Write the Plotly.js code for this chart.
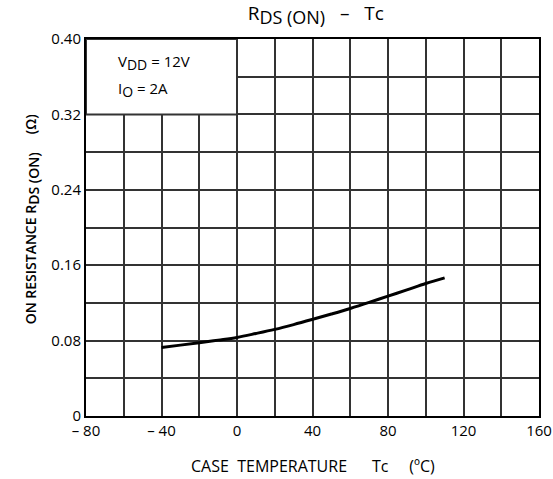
<!DOCTYPE html>
<html>
<head>
<meta charset="utf-8">
<script src="https://cdn.plot.ly/plotly-3.0.1.min.js"></script>
<style>html,body{margin:0;padding:0;background:#fff;}#chart{width:553px;height:479px;}</style>
</head>
<body>
<div id="chart"></div>
<script>
// Data
const tempC = [-40, -30, -20, -10, 0, 10, 20, 30, 40, 50, 60, 70, 80, 90, 100, 110];
const rdsOn = [0.0728, 0.0752, 0.0778, 0.0805, 0.0834, 0.0875, 0.0919, 0.097, 0.1025, 0.1082, 0.1141, 0.1205, 0.1272, 0.1338, 0.1406, 0.1466];
const xTickVals = [-80, -60, -40, -20, 0, 20, 40, 60, 80, 100, 120, 140, 160];
const xTickText = ['\u2013 80', '', '\u2013 40', '', '0', '', '40', '', '80', '', '120', '', '160'];
const yTickVals = [0, 0.04, 0.08, 0.12, 0.16, 0.20, 0.24, 0.28, 0.32, 0.36, 0.40];
const yTickText = ['0', '', '0.08', '', '0.16', '', '0.24', '', '0.32', '', '0.40'];

const FONT = 'Open Sans, DejaVu Sans, sans-serif';
const sp = n => '\u00A0'.repeat(n);
const subBig = (t, px) => '<sub><span style="font-size:' + px + 'px">' + t + '</span></sub>';

const trace = {
  x: tempC, y: rdsOn, type: 'scatter', mode: 'lines',
  line: {color: '#000', width: 3, shape: 'spline'},
  hoverinfo: 'skip', showlegend: false
};

const gridStyle = {showgrid: true, gridcolor: '#333', gridwidth: 2};

const layout = {
  width: 553, height: 479,
  margin: {l: 86, r: 14, t: 39, b: 63},
  paper_bgcolor: '#fff', plot_bgcolor: '#fff',
  font: {family: FONT, color: '#000', size: 15},
  showlegend: false,
  title: {
    text: 'R' + subBig('DS (ON)', 18) + sp(3) + '\u2013' + sp(3) + 'Tc',
    font: {family: FONT, size: 19, color: '#000'},
    x: 0.571, xanchor: 'center', y: 0.972, yanchor: 'middle'
  },
  xaxis: Object.assign({
    range: [-80, 160], tickmode: 'array', tickvals: xTickVals, ticktext: xTickText,
    showline: true, linecolor: '#000', linewidth: 2, mirror: true,
    ticks: '', zeroline: false, fixedrange: true,
    tickfont: {family: FONT, size: 15, color: '#000'}
  }, gridStyle),
  yaxis: Object.assign({
    range: [0, 0.40], tickmode: 'array', tickvals: yTickVals, ticktext: yTickText,
    showline: true, linecolor: '#000', linewidth: 2, mirror: true,
    ticks: '', zeroline: false, fixedrange: true,
    tickfont: {family: FONT, size: 15, color: '#000'}
  }, gridStyle),
  shapes: [{
    type: 'rect', xref: 'x', yref: 'y', x0: -80, x1: 0, y0: 0.32, y1: 0.40,
    fillcolor: '#fff', line: {color: '#333', width: 2}, layer: 'above'
  }],
  annotations: [
    {xref: 'x', yref: 'y', x: -64, y: 0.375, xanchor: 'left', yanchor: 'middle', showarrow: false,
     text: 'V' + subBig('DD', 14) + ' = 12V', font: {family: FONT, size: 15, color: '#000'}},
    {xref: 'x', yref: 'y', x: -64, y: 0.3465, xanchor: 'left', yanchor: 'middle', showarrow: false,
     text: 'I' + subBig('O', 14) + ' = 2A', font: {family: FONT, size: 15, color: '#000'}},
    {xref: 'paper', yref: 'paper', x: 0.5, y: -0.133, xanchor: 'center', yanchor: 'middle', showarrow: false,
     text: 'CASE' + sp(2) + 'TEMPERATURE' + sp(6) + 'Tc' + sp(5) + '(\u00BAC)', font: {family: FONT, size: 16, color: '#000'}},
    {xref: 'paper', yref: 'paper', x: -0.119, y: 0.522, xanchor: 'center', yanchor: 'middle', showarrow: false, textangle: -90,
     text: 'ON RESISTANCE R' + subBig('DS (ON)', 14) + sp(5) + '(\u03A9)', font: {family: FONT, size: 14, color: '#000', weight: 600}}
  ]
};

Plotly.newPlot('chart', [trace], layout, {displayModeBar: false});
</script>
</body>
</html>
